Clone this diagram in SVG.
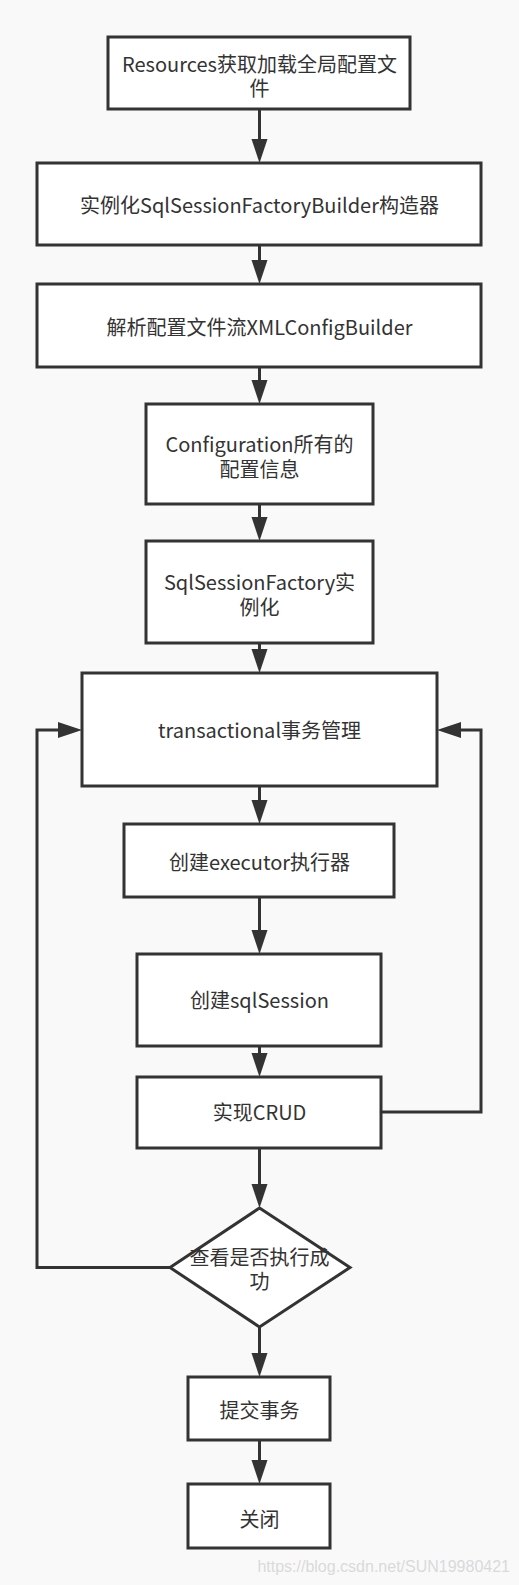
<svg xmlns="http://www.w3.org/2000/svg" width="519" height="1585" viewBox="0 0 519 1585">
<style>
.box{fill:#ffffff;stroke:#333333;stroke-width:3}
.lbl{font-family:"Noto Sans CJK SC","Noto Sans",sans-serif;font-size:20px;fill:#333333;text-anchor:middle}
.edge{fill:none;stroke:#333333;stroke-width:3}
.wm{font-family:"Liberation Sans",Arial,sans-serif;font-size:16px;fill:#d9d9d9;text-anchor:end}
</style>
<defs>
<marker id="arr" markerUnits="userSpaceOnUse" markerWidth="24" markerHeight="16" refX="4" refY="8" orient="auto" overflow="visible">
<path d="M0,0 L24,8 L0,16 z" fill="#333333"/>
</marker>
</defs>
<rect width="519" height="1585" fill="#f9f9f9"/>
<g id="connectors">
<line class="edge" x1="259.5" y1="109" x2="259.5" y2="143" marker-end="url(#arr)"/>
<line class="edge" x1="259.5" y1="245" x2="259.5" y2="264" marker-end="url(#arr)"/>
<line class="edge" x1="259.5" y1="367" x2="259.5" y2="384" marker-end="url(#arr)"/>
<line class="edge" x1="259.5" y1="504" x2="259.5" y2="521" marker-end="url(#arr)"/>
<line class="edge" x1="259.5" y1="643" x2="259.5" y2="653" marker-end="url(#arr)"/>
<line class="edge" x1="259.5" y1="786" x2="259.5" y2="804" marker-end="url(#arr)"/>
<line class="edge" x1="259.5" y1="897" x2="259.5" y2="934" marker-end="url(#arr)"/>
<line class="edge" x1="259.5" y1="1046" x2="259.5" y2="1057" marker-end="url(#arr)"/>
<line class="edge" x1="259.5" y1="1148" x2="259.5" y2="1188" marker-end="url(#arr)"/>
<line class="edge" x1="259.5" y1="1327" x2="259.5" y2="1357" marker-end="url(#arr)"/>
<line class="edge" x1="259.5" y1="1440" x2="259.5" y2="1464" marker-end="url(#arr)"/>
<path class="edge" d="M381,1112 H481 V730 H457" marker-end="url(#arr)"/>
<path class="edge" d="M170,1267.5 H37 V730 H62" marker-end="url(#arr)"/>
</g>
<g id="n1"><rect class="box" x="108" y="37" width="302" height="72"/><text class="lbl" x="259.5" y="72">Resources获取加载全局配置文<tspan x="259.5" dy="24">件</tspan></text></g>
<g id="n2"><rect class="box" x="37" y="163" width="444" height="82"/><text class="lbl" x="259.5" y="213">实例化SqlSessionFactoryBuilder构造器</text></g>
<g id="n3"><rect class="box" x="37" y="284" width="444" height="83"/><text class="lbl" x="259.5" y="335">解析配置文件流XMLConfigBuilder</text></g>
<g id="n4"><rect class="box" x="146" y="404" width="227" height="100"/><text class="lbl" x="259.5" y="452">Configuration所有的<tspan x="259.5" dy="25">配置信息</tspan></text></g>
<g id="n5"><rect class="box" x="146" y="541" width="227" height="102"/><text class="lbl" x="259.5" y="590">SqlSessionFactory实<tspan x="259.5" dy="25">例化</tspan></text></g>
<g id="n6"><rect class="box" x="82" y="673" width="355" height="113"/><text class="lbl" x="259.5" y="738">transactional事务管理</text></g>
<g id="n7"><rect class="box" x="124" y="824" width="270" height="73"/><text class="lbl" x="259.5" y="870">创建executor执行器</text></g>
<g id="n8"><rect class="box" x="137" y="954" width="244" height="92"/><text class="lbl" x="259.5" y="1008">创建sqlSession</text></g>
<g id="n9"><rect class="box" x="137" y="1077" width="244" height="71"/><text class="lbl" x="259.5" y="1120">实现CRUD</text></g>
<g id="n10"><polygon class="box" points="259.5,1208 350,1267.5 259.5,1327 170,1267.5"/><text class="lbl" x="259.5" y="1265">查看是否执行成<tspan x="259.5" dy="24">功</tspan></text></g>
<g id="n11"><rect class="box" x="188" y="1377" width="142" height="63"/><text class="lbl" x="259.5" y="1418">提交事务</text></g>
<g id="n12"><rect class="box" x="188" y="1484" width="142" height="64"/><text class="lbl" x="259.5" y="1527">关闭</text></g>
<text class="wm" x="510" y="1572">https://blog.csdn.net/SUN19980421</text>
</svg>
